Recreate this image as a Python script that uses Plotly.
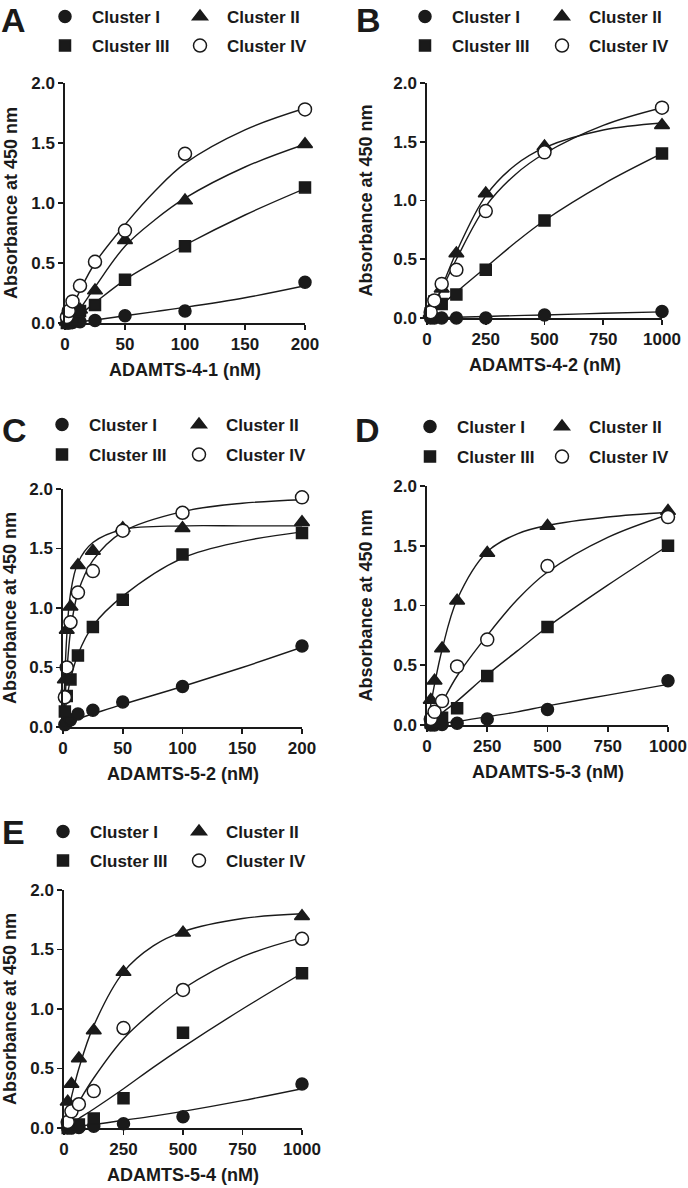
import plotly.graph_objects as go

W, H = 688, 1188

clusters = ["Cluster I", "Cluster II", "Cluster III", "Cluster IV"]

# ---------------- Panel A : ADAMTS-4-1 ----------------
a_x = [1.5625, 3.125, 6.25, 12.5, 25, 50, 100, 200]
a_c1 = [0.0, 0.0, 0.005, 0.01, 0.02, 0.06, 0.10, 0.34]
a_c2 = [0.01, 0.02, 0.05, 0.11, 0.27, 0.69, 1.02, 1.49]
a_c3 = [0.0, 0.01, 0.03, 0.10, 0.15, 0.36, 0.64, 1.13]
a_c4 = [0.05, 0.10, 0.18, 0.31, 0.51, 0.77, 1.41, 1.78]
a_fit_x = [0, 6.25, 12.5, 25, 50, 75, 100, 150, 200]
a_fit1 = [0, 0.005, 0.01, 0.025, 0.06, 0.095, 0.13, 0.21, 0.31]
a_fit2 = [0, 0.05, 0.12, 0.30, 0.64, 0.86, 1.04, 1.30, 1.49]
a_fit3 = [0, 0.03, 0.07, 0.17, 0.36, 0.51, 0.65, 0.90, 1.12]
a_fit4 = [0, 0.13, 0.27, 0.50, 0.82, 1.10, 1.33, 1.61, 1.79]
a_ticks = [0, 50, 100, 150, 200]

# ---------------- Panel B : ADAMTS-4-2 ----------------
b_x = [15.625, 31.25, 62.5, 125, 250, 500, 1000]
b_c1 = [0.0, 0.0, 0.0, 0.0, 0.0, 0.025, 0.055]
b_c2 = [0.04, 0.12, 0.25, 0.55, 1.06, 1.46, 1.64]
b_c3 = [0.04, 0.14, 0.12, 0.20, 0.41, 0.83, 1.40]
b_c4 = [0.05, 0.15, 0.29, 0.41, 0.91, 1.41, 1.79]
b_fit_x = [0, 15.625, 31.25, 62.5, 125, 250, 375, 500, 750, 1000]
b_fit1 = [0, 0.001, 0.002, 0.004, 0.007, 0.013, 0.02, 0.026, 0.04, 0.052]
b_fit2 = [0, 0.06, 0.12, 0.26, 0.56, 1.04, 1.30, 1.45, 1.60, 1.66]
b_fit3 = [0, 0.02, 0.05, 0.11, 0.22, 0.43, 0.64, 0.83, 1.14, 1.40]
b_fit4 = [0, 0.06, 0.12, 0.24, 0.50, 0.95, 1.22, 1.40, 1.64, 1.79]
b_ticks = [0, 250, 500, 750, 1000]

# ---------------- Panel C : ADAMTS-5-2 ----------------
c_x = [1.5625, 3.125, 6.25, 12.5, 25, 50, 100, 200]
c_c1 = [0.02, 0.04, 0.06, 0.11, 0.14, 0.21, 0.34, 0.68]
c_c2 = [0.40, 0.815, 1.01, 1.36, 1.48, 1.67, 1.67, 1.72]
c_c3 = [0.13, 0.26, 0.40, 0.60, 0.84, 1.07, 1.45, 1.63]
c_c4 = [0.25, 0.50, 0.88, 1.13, 1.31, 1.65, 1.80, 1.93]
c_fit_x = [0, 1.5625, 3.125, 6.25, 12.5, 25, 50, 100, 150, 200]
c_fit1 = [0, 0.01, 0.02, 0.04, 0.07, 0.11, 0.19, 0.34, 0.50, 0.67]
c_fit2 = [0, 0.42, 0.76, 1.12, 1.38, 1.55, 1.66, 1.69, 1.69, 1.69]
c_fit3 = [0, 0.12, 0.23, 0.40, 0.61, 0.85, 1.10, 1.42, 1.56, 1.64]
c_fit4 = [0, 0.22, 0.45, 0.80, 1.13, 1.40, 1.64, 1.81, 1.88, 1.91]
c_ticks = [0, 50, 100, 150, 200]

# ---------------- Panel D : ADAMTS-5-3 ----------------
d_x = [15.625, 31.25, 62.5, 125, 250, 500, 1000]
d_c1 = [0.0, 0.0, 0.005, 0.015, 0.05, 0.13, 0.37]
d_c2 = [0.21, 0.37, 0.64, 1.04, 1.44, 1.665, 1.79]
d_c3 = [0.02, 0.04, 0.06, 0.14, 0.41, 0.82, 1.50]
d_c4 = [0.05, 0.11, 0.20, 0.49, 0.715, 1.33, 1.74]
d_fit_x = [0, 15.625, 31.25, 62.5, 125, 250, 375, 500, 750, 1000]
d_fit1 = [0, 0.004, 0.008, 0.015, 0.03, 0.07, 0.11, 0.16, 0.25, 0.34]
d_fit2 = [0, 0.17, 0.34, 0.63, 1.05, 1.45, 1.60, 1.67, 1.74, 1.78]
d_fit3 = [0, 0.02, 0.04, 0.10, 0.20, 0.42, 0.62, 0.82, 1.17, 1.50]
d_fit4 = [0, 0.04, 0.09, 0.19, 0.41, 0.75, 1.05, 1.28, 1.57, 1.76]
d_ticks = [0, 250, 500, 750, 1000]

# ---------------- Panel E : ADAMTS-5-4 ----------------
e_x = [15.625, 31.25, 62.5, 125, 250, 500, 1000]
e_c1 = [0.0, 0.0, 0.005, 0.015, 0.035, 0.095, 0.37]
e_c2 = [0.22, 0.37, 0.585, 0.82, 1.31, 1.64, 1.78]
e_c3 = [0.0, 0.01, 0.03, 0.08, 0.25, 0.80, 1.30]
e_c4 = [0.05, 0.14, 0.20, 0.31, 0.84, 1.16, 1.59]
e_fit_x = [0, 15.625, 31.25, 62.5, 125, 250, 375, 500, 750, 1000]
e_fit1 = [0, 0.004, 0.008, 0.016, 0.03, 0.065, 0.10, 0.14, 0.23, 0.33]
e_fit2 = [0, 0.13, 0.26, 0.50, 0.86, 1.31, 1.53, 1.65, 1.76, 1.80]
e_fit3 = [0, 0.02, 0.04, 0.08, 0.16, 0.33, 0.51, 0.68, 1.00, 1.30]
e_fit4 = [0, 0.05, 0.11, 0.22, 0.42, 0.75, 0.98, 1.17, 1.44, 1.60]
e_ticks = [0, 250, 500, 750, 1000]

y_ticks = [0, 0.5, 1.0, 1.5, 2.0]
y_title = "Absorbance at 450 nm"

# ---------------- layout constants (page pixels) ----------------
FONT = "Liberation Sans"
INK = "#1a1a1a"

panels = [
    dict(letter="A", xtitle="ADAMTS-4-1 (nM)", x=a_x, ys=[a_c1, a_c2, a_c3, a_c4],
         fx=a_fit_x, fys=[a_fit1, a_fit2, a_fit3, a_fit4], ticks=a_ticks,
         box=(65, 305, 83, 323), letter_xy=(13, 20), ytitle_x=11,
         leg_x=(65, 200), leg_y=(17, 46)),
    dict(letter="B", xtitle="ADAMTS-4-2 (nM)", x=b_x, ys=[b_c1, b_c2, b_c3, b_c4],
         fx=b_fit_x, fys=[b_fit1, b_fit2, b_fit3, b_fit4], ticks=b_ticks,
         box=(427, 662, 83, 318), letter_xy=(369, 20), ytitle_x=365,
         leg_x=(425, 562), leg_y=(17, 46)),
    dict(letter="C", xtitle="ADAMTS-5-2 (nM)", x=c_x, ys=[c_c1, c_c2, c_c3, c_c4],
         fx=c_fit_x, fys=[c_fit1, c_fit2, c_fit3, c_fit4], ticks=c_ticks,
         box=(63, 302, 489, 727), letter_xy=(14, 430), ytitle_x=10,
         leg_x=(62, 199), leg_y=(425, 455)),
    dict(letter="D", xtitle="ADAMTS-5-3 (nM)", x=d_x, ys=[d_c1, d_c2, d_c3, d_c4],
         fx=d_fit_x, fys=[d_fit1, d_fit2, d_fit3, d_fit4], ticks=d_ticks,
         box=(427, 668, 486, 725), letter_xy=(368, 430), ytitle_x=365,
         leg_x=(430, 562), leg_y=(427, 457)),
    dict(letter="E", xtitle="ADAMTS-5-4 (nM)", x=e_x, ys=[e_c1, e_c2, e_c3, e_c4],
         fx=e_fit_x, fys=[e_fit1, e_fit2, e_fit3, e_fit4], ticks=e_ticks,
         box=(64, 302, 890, 1128), letter_xy=(13, 832), ytitle_x=10,
         leg_x=(63, 199), leg_y=(832, 861)),
]

symbols = ["circle", "triangle-up", "square", "circle"]
fills = [INK, INK, INK, "white"]
sizes = [12, 13, 11, 13]
ITEM_W = 44          # legend symbol slot width
SYM_OFF = 27         # distance from legend box left to symbol centre


def px(x):
    return x / W


def py(y):
    return 1 - y / H


fig = go.Figure()
annotations = []
layout_extra = {}

# fitted curves first (drawn beneath the markers)
for i, p in enumerate(panels):
    n = i + 1
    xa = "x" if n == 1 else f"x{n}"
    ya = "y" if n == 1 else f"y{n}"
    for k in range(4):
        fig.add_trace(go.Scatter(
            x=p["fx"], y=p["fys"][k], xaxis=xa, yaxis=ya, mode="lines",
            line=dict(color=INK, width=1.4, shape="spline", smoothing=1.0),
            showlegend=False, hoverinfo="skip"))

# markers + legends
for i, p in enumerate(panels):
    n = i + 1
    xa = "x" if n == 1 else f"x{n}"
    ya = "y" if n == 1 else f"y{n}"
    for k in range(4):
        li = i * 4 + k + 1
        lname = "legend" if li == 1 else f"legend{li}"
        fig.add_trace(go.Scatter(
            x=p["x"], y=p["ys"][k], xaxis=xa, yaxis=ya, mode="markers",
            name=clusters[k], legend=lname, cliponaxis=False,
            marker=dict(symbol=symbols[k], size=sizes[k], color=fills[k],
                        line=dict(color=INK, width=1.5))))
        mx = p["leg_x"][k % 2]
        my = p["leg_y"][k // 2]
        layout_extra[lname] = dict(
            x=px(mx - SYM_OFF), y=py(my), xanchor="left", yanchor="middle",
            orientation="h", bgcolor="rgba(0,0,0,0)", borderwidth=0,
            itemwidth=ITEM_W, itemsizing="trace",
            font=dict(family=FONT, size=17, color=INK, weight="bold"))

    x0, x1, ytop, ybot = p["box"]
    axis_common = dict(showline=True, linecolor=INK, linewidth=1.6, ticks="outside",
                       ticklen=5, tickwidth=1.6, tickcolor=INK, showgrid=False,
                       zeroline=False, fixedrange=True, automargin=False,
                       tickfont=dict(family=FONT, size=17, color=INK, weight="bold"))
    layout_extra["xaxis" if n == 1 else f"xaxis{n}"] = dict(
        axis_common, domain=[px(x0), px(x1)], range=[0, p["ticks"][-1]],
        tickvals=p["ticks"], anchor=ya)
    layout_extra["yaxis" if n == 1 else f"yaxis{n}"] = dict(
        axis_common, domain=[py(ybot), py(ytop)], range=[0, 2.0],
        tickvals=y_ticks, tickformat=".1f", anchor=xa)

    # panel letter
    lx, ly = p["letter_xy"]
    annotations.append(dict(text=f"<b>{p['letter']}</b>", x=px(lx), y=py(ly),
                            xref="paper", yref="paper", showarrow=False,
                            xanchor="center", yanchor="middle",
                            font=dict(family=FONT, size=34, color=INK)))
    # x title
    annotations.append(dict(text=f"<b>{p['xtitle']}</b>", x=px((x0 + x1) / 2), y=py(ybot + 47),
                            xref="paper", yref="paper", showarrow=False,
                            xanchor="center", yanchor="middle",
                            font=dict(family=FONT, size=18, color=INK)))
    # y title
    annotations.append(dict(text=f"<b>{y_title}</b>", x=px(p["ytitle_x"]), y=py((ytop + ybot) / 2),
                            xref="paper", yref="paper", showarrow=False, textangle=-90,
                            xanchor="center", yanchor="middle",
                            font=dict(family=FONT, size=18, color=INK)))

fig.update_layout(width=W, height=H,
                  margin=dict(l=0, r=0, t=0, b=0, autoexpand=False),
                  paper_bgcolor="white", plot_bgcolor="white", showlegend=True,
                  hovermode=False, annotations=annotations, **layout_extra)

# place the figure flush with the page's top-left corner, no mode bar
fig.write_html("out.html", config={"displayModeBar": False, "staticPlot": True},
               post_script="document.body.style.margin='0px';document.body.style.padding='0px';")
